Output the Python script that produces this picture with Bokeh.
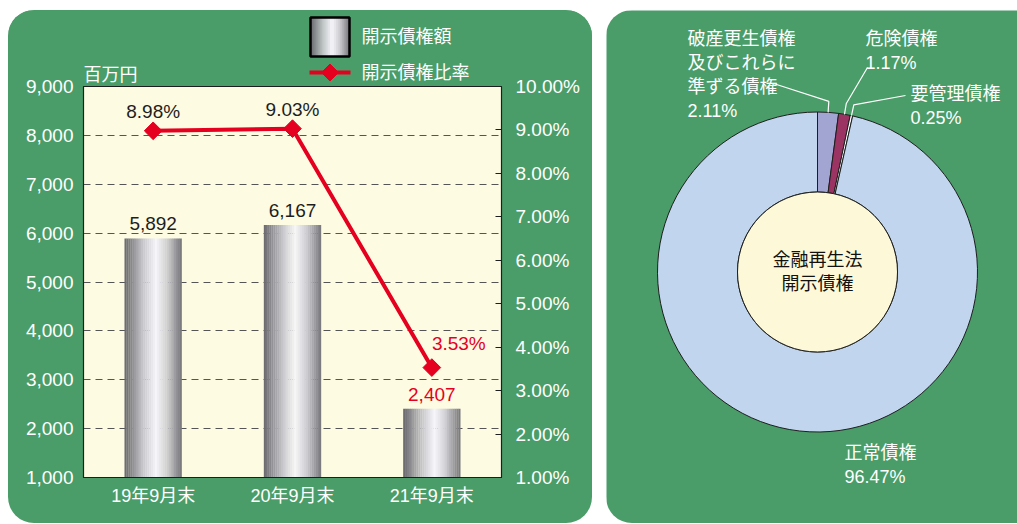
import math
import numpy as np
from bokeh.plotting import figure
from bokeh.models import (ColumnDataSource, Range1d, LinearAxis, FixedTicker, LabelSet, Spacer)
from bokeh.layouts import row, column
from bokeh.transform import dodge
from bokeh.core.properties import value
from bokeh.embed import file_html
from bokeh.resources import INLINE

# ---------------- data ----------------
periods = ["19年9月末", "20年9月末", "21年9月末"]
disclosed_amount = [5892, 6167, 2407]      # 百万円
disclosed_ratio = [8.98, 9.03, 3.53]       # %
amount_text = ["5,892", "6,167", "2,407"]
ratio_text = ["8.98%", "9.03%", "3.53%"]

left_ticks = [1000, 2000, 3000, 4000, 5000, 6000, 7000, 8000, 9000]
left_tick_labels = ["1,000", "2,000", "3,000", "4,000", "5,000", "6,000", "7,000", "8,000", "9,000"]
right_ticks = [1, 2, 3, 4, 5, 6, 7, 8, 9, 10]
right_tick_labels = ["1.00%", "2.00%", "3.00%", "4.00%", "5.00%", "6.00%", "7.00%", "8.00%", "9.00%", "10.00%"]

legend_labels = ["開示債権額", "開示債権比率"]
unit_label = "百万円"

pie_categories = ["破産更生債権\n及びこれらに\n準ずる債権", "危険債権", "要管理債権", "正常債権"]
pie_shares = [2.11, 1.17, 0.25, 96.47]
pie_share_text = ["2.11%", "1.17%", "0.25%", "96.47%"]
center_title = ["金融再生法", "開示債権"]

# ---------------- style ----------------
GREEN = "#4a9d68"
CREAM = "#fdfbe2"
CREAM2 = "#fdf9d8"
RED = "#e5001f"
DARK = "#1e1e1e"
FONT = "Liberation Sans, Noto Sans CJK JP"
label_colors = [DARK, DARK, RED]
ratio_dx = [0, 0, 27]
ratio_dy = [13, 13, 18]
pie_colors = ["#a2a5d2", "#9c3463", "#ffffff", "#c1d5ee"]


def shade(t):
    stops = [(0.0, 104), (0.12, 138), (0.33, 200), (0.55, 246), (0.75, 205), (0.92, 145), (1.0, 118)]
    v = stops[-1][1]
    for (t0, v0), (t1, v1) in zip(stops[:-1], stops[1:]):
        if t0 <= t <= t1:
            v = v0 + (v1 - v0) * (t - t0) / (t1 - t0)
            break
    v = int(round(v))
    return "#%02x%02x%02x" % (v, v, min(255, v + 4))


PANEL_W = 584
BL, BR = 75, 91     # left / right borders of the chart frame
TOP_H = 76          # header strip (legend + unit)
OVERLAP = 24        # main chart overlaps header (transparent border)
MAIN_H = 461

# ---------------- header strip: legend + unit (page-pixel coordinates) ----------------
ph = figure(width=PANEL_W, height=TOP_H, x_range=Range1d(83, 501), y_range=Range1d(86, 10),
            x_axis_type=None, y_axis_type=None,
            min_border_left=BL, min_border_right=BR, min_border_top=0, min_border_bottom=0,
            output_backend="svg", toolbar_location=None,
            background_fill_color=GREEN, border_fill_color=GREEN, outline_line_color=None)
ph.grid.visible = False

SX0, SX1, SY0, SY1 = 310, 349, 17, 56
M = 20
lefts = [SX0 + (SX1 - SX0) * i / M for i in range(M)]
rights = [SX0 + (SX1 - SX0) * (i + 1) / M + 0.5 for i in range(M)]
ph.quad(left=lefts, right=rights, top=[SY0] * M, bottom=[SY1] * M,
        fill_color=[shade((i + 0.5) / M) for i in range(M)], line_color=None)
ph.quad(left=[SX0], right=[SX1], top=[SY0], bottom=[SY1], fill_color=None,
        line_color="black", line_width=2.5)
LLY = 72
ph.line(x=[SX0 - 1, SX1 + 1], y=[LLY, LLY], line_color=RED, line_width=4)
ph.scatter(x=[(SX0 + SX1) / 2], y=[LLY], marker="square", angle=math.pi / 4, size=12,
           fill_color=RED, line_color=RED)
ph.text(x=[361, 361], y=[(SY0 + SY1) / 2, LLY], text=legend_labels, text_baseline="middle",
        text_align="left", text_color="white", text_font=value(FONT), text_font_size="18px")
ph.text(x=[83], y=[74], text=[unit_label], text_baseline="alphabetic", text_align="left",
        text_color="white", text_font=value(FONT), text_font_size="18px")

# ---------------- main chart: bars + line ----------------
MT, MB = OVERLAP, MAIN_H - OVERLAP - 391
p = figure(width=PANEL_W, height=MAIN_H, x_range=periods, y_range=Range1d(1000, 9000),
           min_border_left=BL, min_border_right=BR, min_border_top=MT, min_border_bottom=MB,
           output_backend="svg", toolbar_location=None,
           background_fill_color=CREAM, border_fill_color=None,
           outline_line_color=DARK, outline_line_width=1.2,
           styles={"margin-top": "-%dpx" % OVERLAP})
p.extra_y_ranges = {"pct": Range1d(1, 10)}
p.add_layout(LinearAxis(y_range_name="pct"), "right")

p.xgrid.grid_line_color = None
p.ygrid.ticker = FixedTicker(ticks=left_ticks[1:-1])
p.ygrid.grid_line_color = "#555555"
p.ygrid.grid_line_dash = "7 5"
p.ygrid.grid_line_width = 1.2

for ax in p.axis:
    ax.major_label_text_color = "white"
    ax.major_label_text_font = FONT
    ax.major_label_text_font_size = "19px"
    ax.axis_line_color = DARK
    ax.major_tick_in = 0
    ax.major_tick_out = 0
    ax.minor_tick_in = 0
    ax.minor_tick_out = 0

left_ax = p.left[0]
left_ax.ticker = FixedTicker(ticks=left_ticks)
left_ax.major_label_overrides = dict(zip(left_ticks, left_tick_labels))
left_ax.major_label_standoff = 10

right_ax = p.right[0]
right_ax.ticker = FixedTicker(ticks=right_ticks)
right_ax.major_label_overrides = dict(zip(right_ticks, right_tick_labels))
right_ax.major_tick_in = 6
right_ax.major_tick_line_color = DARK
right_ax.major_label_standoff = 14

bottom_ax = p.below[0]
bottom_ax.major_label_text_font_size = "18px"
bottom_ax.major_label_standoff = 8

src = ColumnDataSource(dict(period=periods, amount=disclosed_amount, ratio=disclosed_ratio,
                            amount_text=amount_text, ratio_text=ratio_text,
                            label_color=label_colors, dx=ratio_dx, dy=ratio_dy))

BAR_W = 0.41
N = 30
for i in range(N):
    t = (i + 0.5) / N
    off = -BAR_W / 2 + (i + 0.5) * BAR_W / N
    p.vbar(x=dodge("period", off, range=p.x_range), top="amount", bottom=0,
           width=BAR_W / N * 1.12, fill_color=shade(t), line_color=None, source=src)

p.line(x="period", y="ratio", y_range_name="pct", source=src, line_color=RED, line_width=4)
p.scatter(x="period", y="ratio", y_range_name="pct", source=src, marker="square",
          angle=math.pi / 4, size=12.5, fill_color=RED, line_color=RED)

p.add_layout(LabelSet(x="period", y="amount", text="amount_text", source=src, y_offset=8,
                      text_align="center", text_baseline="alphabetic", text_color="label_color",
                      text_font=value(FONT), text_font_size="19px"))
p.add_layout(LabelSet(x="period", y="ratio", y_range_name="pct", text="ratio_text", source=src,
                      x_offset="dx", y_offset="dy",
                      text_align="center", text_baseline="alphabetic", text_color="label_color",
                      text_font=value(FONT), text_font_size="19px"))

left_panel = column(ph, p, styles={"background-color": GREEN, "border-radius": "26px",
                                   "overflow": "hidden"})

# ---------------- right panel: donut ----------------
W2, H2 = 411, 513
p2 = figure(width=W2, height=H2, x_range=Range1d(0, W2), y_range=Range1d(0, H2),
            x_axis_type=None, y_axis_type=None, min_border=0,
            output_backend="svg", toolbar_location=None,
            background_fill_color=GREEN, border_fill_color=GREEN, outline_line_color=None,
            styles={"border-radius": "26px 0 0 26px", "overflow": "hidden"})
p2.grid.visible = False

CX, CY, R_OUT, R_IN = 211, 251.5, 160, 80
fr = np.array(pie_shares) / np.sum(pie_shares)
cum = np.concatenate([[0.0], np.cumsum(fr)])
start = np.pi / 2 - 2 * np.pi * cum[:-1]
end = np.pi / 2 - 2 * np.pi * cum[1:]
src2 = ColumnDataSource(dict(name=pie_categories, share=pie_shares, start=start, end=end,
                             color=pie_colors))
p2.annular_wedge(x=CX, y=CY, inner_radius=R_IN, outer_radius=R_OUT, start_angle="start",
                 end_angle="end", direction="clock", fill_color="color", line_color=DARK,
                 line_width=1, source=src2)
p2.circle(x=CX, y=CY, radius=R_IN, fill_color=CREAM2, line_color=DARK, line_width=1)

p2.text(x=[CX, CX], y=[CY + 12, CY - 11.5], text=center_title, text_align="center",
        text_baseline="middle", text_color="#111111", text_font=value(FONT),
        text_font_size="18px")

anchors = [(81, 485), (259, 485), (304, 430), (238, 71)]
tx, ty, tt = [], [], []
for k in range(len(pie_categories)):
    lines = pie_categories[k].split("\n") + [pie_share_text[k]]
    ax0, ay0 = anchors[k]
    for j, ln in enumerate(lines):
        tx.append(ax0)
        ty.append(ay0 - 24 * j)
        tt.append(ln)
p2.text(x=tx, y=ty, text=tt, text_align="left", text_baseline="middle", text_color="white",
        text_font=value(FONT), text_font_size="18px")

label_ends = [(167, 440), (261, 456), (299, 428)]
xs, ys = [], []
for k in range(3):
    th = (start[k] + end[k]) / 2
    ox, oy = CX + R_OUT * math.cos(th), CY + R_OUT * math.sin(th)
    ex, ey = CX + 171 * math.cos(th), CY + 171 * math.sin(th)
    lx, ly = label_ends[k]
    xs.append([lx, ex, ox])
    ys.append([ly, ey, oy])
p2.multi_line(xs=xs, ys=ys, line_color="white", line_width=1.2)

layout = column(Spacer(height=10),
                row(Spacer(width=8), left_panel, Spacer(width=14), p2))
open("out.html", "w").write(file_html(layout, INLINE))
